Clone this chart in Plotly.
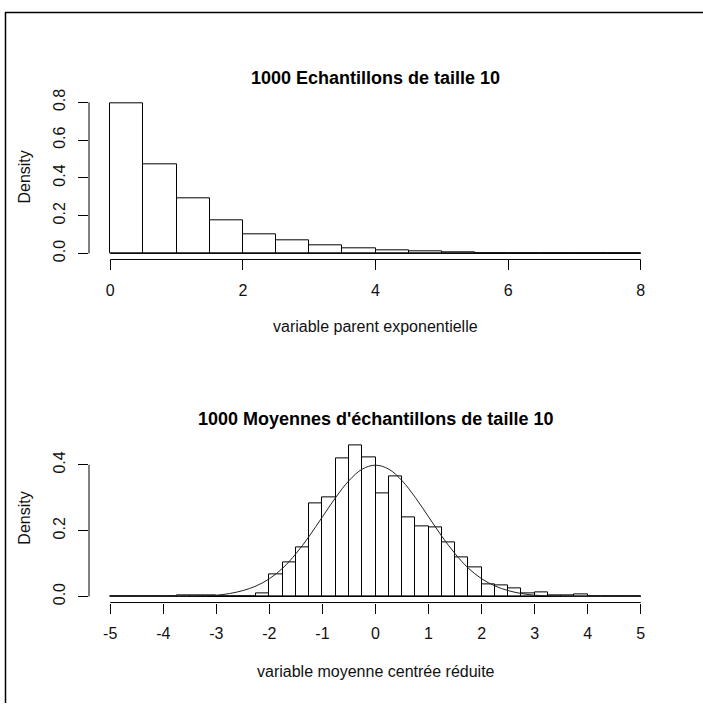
import plotly.graph_objects as go

# ---------------- data ----------------
# Top histogram: exponential parent variable, bins of width 0.5 from 0 to 8
top_bin_left = [0.0, 0.5, 1.0, 1.5, 2.0, 2.5, 3.0, 3.5, 4.0, 4.5, 5.0, 5.5, 6.0, 6.5, 7.0, 7.5]
top_density = [0.795, 0.470, 0.292, 0.178, 0.103, 0.068, 0.042, 0.027, 0.016, 0.010,
               0.005, 0.003, 0.002, 0.001, 0.0, 0.0]
top_bin_width = 0.5
top_xticks = [0, 2, 4, 6, 8]
top_yticks = [0.0, 0.2, 0.4, 0.6, 0.8]

# Bottom histogram: standardized means, bins of width 0.25 from -5 to 5
bot_bin_left = [-5.0 + 0.25 * i for i in range(40)]
bot_density = [0.0, 0.0, 0.0, 0.0, 0.0, 0.003, 0.003, 0.004, 0.0, 0.0,
               0.0, 0.010, 0.068, 0.103, 0.150, 0.282, 0.301, 0.419, 0.459, 0.422,
               0.314, 0.366, 0.240, 0.213, 0.211, 0.165, 0.119, 0.088, 0.038, 0.035,
               0.026, 0.009, 0.011, 0.004, 0.003, 0.007, 0.0, 0.0, 0.0, 0.0]
bot_bin_width = 0.25
bot_xticks = [-5, -4, -3, -2, -1, 0, 1, 2, 3, 4, 5]
bot_yticks = [0.0, 0.2, 0.4]

# Overlaid normal density curve
curve_x = [-5.0 + 0.25 * i for i in range(41)]
curve_half = [0.399, 0.387, 0.352, 0.301, 0.242, 0.183, 0.130, 0.086, 0.054, 0.032,
              0.018, 0.009, 0.004, 0.002, 0.001, 0.0004, 0.0001, 0.0, 0.0, 0.0, 0.0]
curve_y = curve_half[::-1] + curve_half[1:]

titles = ["1000 Echantillons de taille 10", "1000 Moyennes d'échantillons de taille 10"]
xlabels = ["variable parent exponentielle", "variable moyenne centrée réduite"]
ylabel = "Density"

# ---------------- layout geometry ----------------
W, H = 703, 706
FONT = "Liberation Sans, Arial, sans-serif"
TICK_FS = 16
TITLE_FS = 18


def py(px):  # pixel row -> paper y
    return 1 - px / H


def pxx(px):
    return px / W


xdom = [pxx(89), pxx(662)]
top_ydom = [py(256.1), py(90.6)]
bot_ydom = [py(604.1), py(438.6)]

fig = go.Figure()

bar_style = dict(color="white", line=dict(color="black", width=1))

fig.add_trace(go.Bar(x=top_bin_left, y=top_density, width=top_bin_width, offset=0,
                     marker=bar_style, xaxis="x", yaxis="y", showlegend=False))
# baseline of the histogram across all bins
fig.add_trace(go.Scatter(x=[top_bin_left[0], top_bin_left[-1] + top_bin_width], y=[0, 0],
                         mode="lines", line=dict(color="black", width=1),
                         xaxis="x", yaxis="y", showlegend=False))

fig.add_trace(go.Bar(x=bot_bin_left, y=bot_density, width=bot_bin_width, offset=0,
                     marker=bar_style, xaxis="x2", yaxis="y2", showlegend=False))
fig.add_trace(go.Scatter(x=[bot_bin_left[0], bot_bin_left[-1] + bot_bin_width], y=[0, 0],
                         mode="lines", line=dict(color="black", width=1),
                         xaxis="x2", yaxis="y2", showlegend=False))
fig.add_trace(go.Scatter(x=curve_x, y=curve_y, mode="lines",
                         line=dict(color="#222222", width=1, shape="spline"),
                         xaxis="x2", yaxis="y2", showlegend=False))


def xaxis_cfg(dom, anchor, rng, ticks):
    return dict(domain=dom, anchor=anchor, range=rng, tickvals=ticks,
                ticktext=[str(t) for t in ticks], ticks="outside", ticklen=10,
                tickwidth=1, tickcolor="black", showline=False, showgrid=False,
                zeroline=False, tickfont=dict(family=FONT, size=TICK_FS, color="#111111"),
                ticklabelstandoff=6, fixedrange=True)


def yaxis_cfg(dom, anchor, rng, ticks):
    return dict(domain=dom, anchor=anchor, range=rng, tickvals=ticks,
                ticktext=[f"{t:.1f}" for t in ticks], ticks="outside", ticklen=10,
                tickwidth=1, tickcolor="black", showline=False, showgrid=False,
                zeroline=False, tickangle=-90,
                tickfont=dict(family=FONT, size=TICK_FS, color="#111111"),
                ticklabelstandoff=7, fixedrange=True)


def rng_of(lo, hi):
    d = (hi - lo) * 0.04
    return [lo - d, hi + d]


fig.update_layout(
    width=W, height=H, margin=dict(l=0, r=0, t=0, b=0),
    paper_bgcolor="white", plot_bgcolor="white", bargap=0,
    xaxis=xaxis_cfg(xdom, "y", rng_of(top_xticks[0], top_xticks[-1]), top_xticks),
    yaxis=yaxis_cfg(top_ydom, "x", rng_of(0, 0.8), top_yticks),
    xaxis2=xaxis_cfg(xdom, "y2", rng_of(bot_xticks[0], bot_xticks[-1]), bot_xticks),
    yaxis2=yaxis_cfg(bot_ydom, "x2", rng_of(0, max(bot_density)), bot_yticks),
)

shapes = []
# R-style axis lines spanning only the tick range
for xa, ya, xt, yt in [("x", "y", top_xticks, top_yticks), ("x2", "y2", bot_xticks, bot_yticks)]:
    shapes.append(dict(type="line", xref=xa, yref=ya + " domain", x0=xt[0], x1=xt[-1],
                       y0=0, y1=0, line=dict(color="black", width=1)))
    shapes.append(dict(type="line", xref=xa + " domain", yref=ya, x0=0, x1=0,
                       y0=yt[0], y1=yt[-1], line=dict(color="black", width=1)))
# window frame (top and left edges)
shapes.append(dict(type="line", xref="paper", yref="paper", x0=pxx(5), x1=1, y0=py(5.5), y1=py(5.5),
                   line=dict(color="black", width=1.5)))
shapes.append(dict(type="line", xref="paper", yref="paper", x0=pxx(5.5), x1=pxx(5.5), y0=0, y1=py(5),
                   line=dict(color="black", width=1.5)))
fig.update_layout(shapes=shapes)

xc = (xdom[0] + xdom[1]) / 2
annotations = []
for i, (t, xl) in enumerate(zip(titles, xlabels)):
    off = 346 * i
    annotations.append(dict(text=f"<b>{t}</b>", x=xc, y=py(72 + off), xref="paper", yref="paper",
                            showarrow=False, xanchor="center", yanchor="middle",
                            font=dict(family=FONT, size=TITLE_FS, color="black")))
    annotations.append(dict(text=xl, x=xc, y=py(324 + 350 * i), xref="paper", yref="paper",
                            showarrow=False, xanchor="center", yanchor="middle",
                            font=dict(family=FONT, size=TICK_FS, color="#111111")))
    annotations.append(dict(text=ylabel, x=pxx(25), y=py(173 + off), xref="paper", yref="paper",
                            showarrow=False, xanchor="center", yanchor="middle", textangle=-90,
                            font=dict(family=FONT, size=TICK_FS, color="#111111")))
fig.update_layout(annotations=annotations)

fig.write_html("out.html")
